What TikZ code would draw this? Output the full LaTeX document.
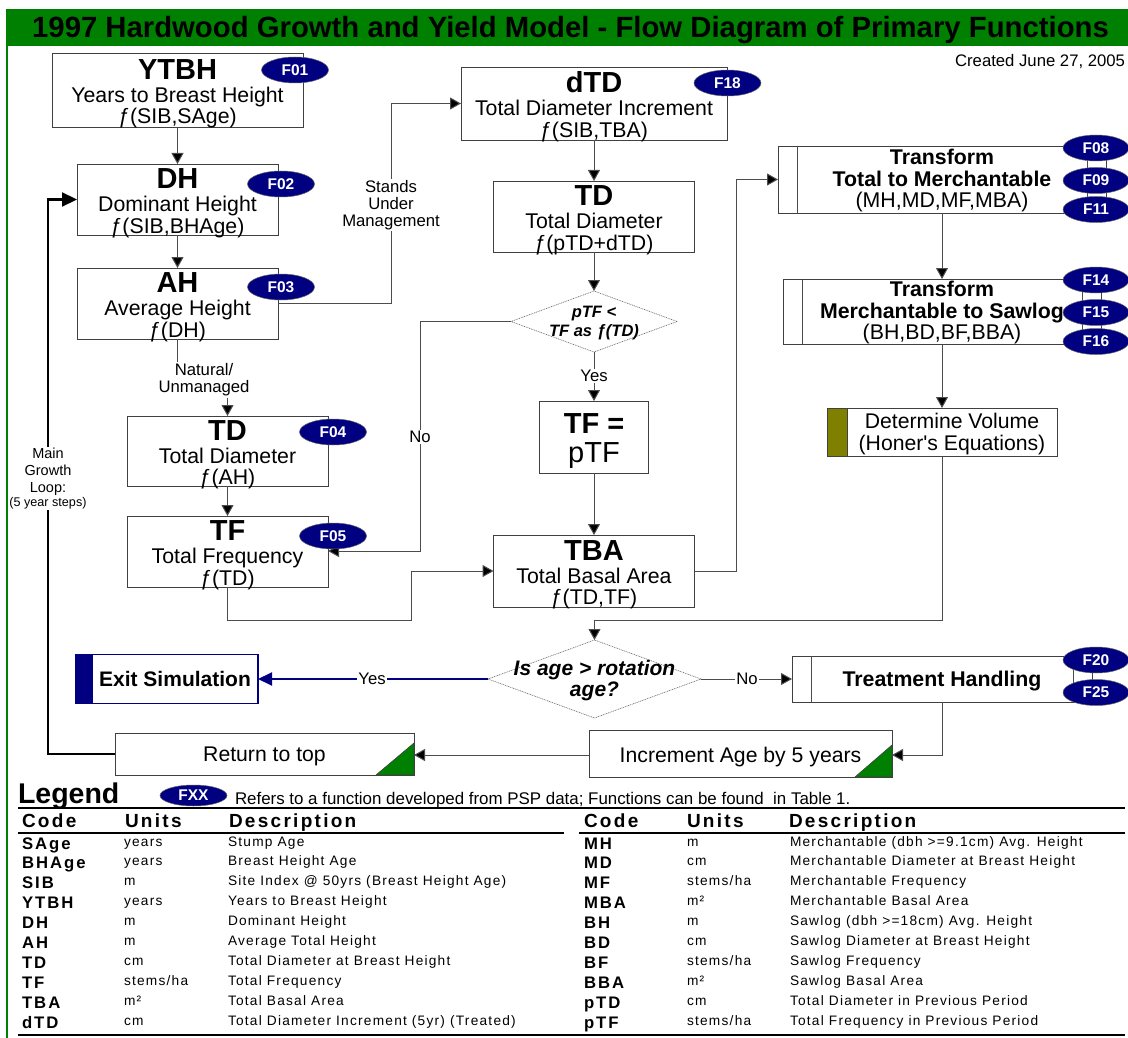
\documentclass[tikz,border=0pt]{standalone}
\usepackage{fontspec}
\setmainfont{Liberation Sans}
\newfontfamily\qf{Liberation Sans}
\newfontfamily\spA[LetterSpace=9]{Liberation Sans}
\newfontfamily\spB[LetterSpace=12]{Liberation Sans}
\usetikzlibrary{arrows.meta,shapes.geometric,calc}
\definecolor{fgreen}{HTML}{008000}
\definecolor{fnavy}{HTML}{000080}
\definecolor{folive}{HTML}{808000}
\newcommand{\TT}[1]{{\fontsize{29}{22}\selectfont\bfseries\rule{0pt}{28pt}#1}}
\newcommand{\TX}[1]{{#1}}
\newcommand{\TB}[1]{{\bfseries #1}}
\tikzset{
 every node/.style={inner sep=0pt,outer sep=0pt},
 box/.style={draw=black!75,line width=.95pt,fill=white,rectangle,align=center,inner ysep=-10pt,font=\fontsize{21.3}{21.5}\selectfont},
 oval/.style={ellipse,draw=black!60,line width=.5pt,fill=fnavy,minimum width=67pt,minimum height=26pt,text=white,font=\fontsize{15.5}{15.5}\selectfont\bfseries},
 cond/.style={diamond,draw=black!60,line width=.6pt,dash pattern=on 1pt off .8pt,fill=white},
 lnk/.style={draw=black!70,line width=1pt,-{Triangle[length=11pt,width=12pt,fill=black]}},
 plain/.style={draw=black!70,line width=1pt},
 lab/.style={fill=white,align=center,font=\fontsize{16.7}{17}\selectfont,inner sep=1.5pt},
 hdr/.style={anchor=base west,font=\fontsize{19}{20}\selectfont\spB\bfseries},
 cod/.style={anchor=base west,font=\fontsize{16.7}{17}\selectfont\spB\bfseries},
 unt/.style={anchor=base west,font=\fontsize{13.7}{14}\selectfont\spA},
 dsc/.style={anchor=base west,font=\fontsize{13.7}{14}\selectfont\spA},
}
\begin{document}
\begin{tikzpicture}[x=1pt,y=-1pt]
\useasboundingbox (0,0) rectangle (1128,1038);
% frame
\fill[fgreen] (6,9) rectangle (8,1038);
\node[fill=fgreen,minimum width=1122pt,minimum height=37pt,anchor=north west] (bar) at (6,9) {};
\node[anchor=center,font=\fontsize{29.3}{30}\selectfont\bfseries] (title) at (570.5,30) {1997 Hardwood Growth and Yield Model - Flow Diagram of Primary Functions};
\node[anchor=east,font=\fontsize{16.7}{17}\selectfont] (created) at (1125,62) {Created June 27, 2005};

% left column
\node[box,minimum width=251pt,minimum height=74pt] (ytbh) at (177.5,90) {\TT{YTBH}\\[1.5pt]\TX{Years to Breast Height}\\\TX{ƒ(SIB,SAge)}};
\node[box,minimum width=201pt,minimum height=71pt] (dh) at (177.5,199.5) {\TT{DH}\\[1.5pt]\TX{Dominant Height}\\\TX{ƒ(SIB,BHAge)}};
\node[box,minimum width=201pt,minimum height=71pt] (ah) at (177.5,303.5) {\TT{AH}\\[1.5pt]\TX{Average Height}\\\TX{ƒ(DH)}};
\node[box,minimum width=201pt,minimum height=70pt] (tdl) at (227.5,451) {\TT{TD}\\[1.5pt]\TX{Total Diameter}\\\TX{ƒ(AH)}};
\node[box,minimum width=201pt,minimum height=71pt] (tfl) at (227.5,551.5) {\TT{TF}\\[1.5pt]\TX{Total Frequency}\\\TX{ƒ(TD)}};

% middle column
\node[box,minimum width=266pt,minimum height=73pt] (dtd) at (594,103.5) {\TT{dTD}\\[1.5pt]\TX{Total Diameter Increment}\\\TX{ƒ(SIB,TBA)}};
\node[box,minimum width=201pt,minimum height=71pt] (tdm) at (594,216.5) {\TT{TD}\\[1.5pt]\TX{Total Diameter}\\\TX{ƒ(pTD+dTD)}};
\node[cond,aspect=2.72,minimum width=166pt,minimum height=61pt] (ptf) at (594,321.5) {};
\node[align=center,font=\fontsize{16.5}{19}\selectfont\bfseries\itshape] (ptft) at (594,323) {pTF <\\TF as ƒ(TD)};
\node[box,minimum width=109pt,minimum height=72pt] (tfe) at (594,437) {\TT{TF =}\\[7pt]{\fontsize{29}{22}\selectfont pTF}};
\node[box,minimum width=201pt,minimum height=72pt] (tba) at (594,571) {\TT{TBA}\\[1.5pt]\TX{Total Basal Area}\\\TX{ƒ(TD,TF)}};

% right column (predefined processes)
\node[box,minimum width=328pt,minimum height=67pt] (tm) at (942,179.5) {\rule{0pt}{18pt}\TB{Transform}\\\TB{Total to Merchantable}\\\TX{(MH,MD,MF,MBA)}};
\draw[plain] ($(tm.north west)+(19,0)$) -- ($(tm.south west)+(19,0)$);
\draw[plain] ($(tm.north east)+(-19,0)$) -- ($(tm.south east)+(-19,0)$);
\node[box,minimum width=318pt,minimum height=65pt] (ms) at (942,311.5) {\rule{0pt}{18pt}\TB{Transform}\\\TB{Merchantable to Sawlog}\\\TX{(BH,BD,BF,BBA)}};
\draw[plain] ($(ms.north west)+(19,0)$) -- ($(ms.south west)+(19,0)$);
\draw[plain] ($(ms.north east)+(-19,0)$) -- ($(ms.south east)+(-19,0)$);
\node[box,minimum width=230pt,minimum height=48pt] (det) at (942,432) {};
\fill[folive,draw=black!75,line width=.95pt] (det.north west) rectangle ($(det.south west)+(20,0)$);
\node[align=center,font=\fontsize{21.2}{22.5}\selectfont] (dett) at (952,434) {Determine Volume\\(Honer{\qf'}s Equations)};

% bottom row
\node[cond,aspect=2.73,minimum width=213pt,minimum height=78pt] (age) at (594.5,679) {};
\node[align=center,font=\fontsize{21}{21.5}\selectfont\bfseries\itshape] (aget) at (594.5,680.5) {Is age > rotation\\age?};
\node[box,draw=fnavy,line width=1.4pt,minimum width=182pt,minimum height=49pt] (exit) at (167,679) {};
\fill[fnavy] (exit.north west) rectangle ($(exit.south west)+(17,0)$);
\node[font=\fontsize{21}{22}\selectfont\bfseries] (exitt) at (175,679) {Exit Simulation};
\node[box,minimum width=300pt,minimum height=46pt] (trt) at (942,679) {\rule{0pt}{20pt}\TB{Treatment Handling}};
\draw[plain] ($(trt.north west)+(19,0)$) -- ($(trt.south west)+(19,0)$);
\draw[plain] ($(trt.north east)+(-19,0)$) -- ($(trt.south east)+(-19,0)$);
\node[box,minimum width=303pt,minimum height=47pt] (inc) at (740.5,753.5) {};
\fill[fgreen,draw=black!75,line width=.6pt] (inc.south east) -- ($(inc.south east)+(0,-32)$) -- ($(inc.south east)+(-37,0)$) -- cycle;
\node[font=\fontsize{21.2}{22}\selectfont] (inct) at (740.5,757) {Increment Age by 5 years};
\node[box,minimum width=299pt,minimum height=42pt] (ret) at (264.5,754) {};
\fill[fgreen,draw=black!75,line width=.6pt] (ret.south east) -- ($(ret.south east)+(0,-32)$) -- ($(ret.south east)+(-38,0)$) -- cycle;
\node[font=\fontsize{21.2}{22}\selectfont] (rett) at (264.5,756) {Return to top};

% waypoints
\coordinate (w1) at (177.5,378);
\coordinate (w2) at (227.5,378);
\coordinate (w3) at (227.5,620);
\coordinate (w4) at (411,620);
\coordinate (w5) at (391,303.5);
\coordinate (w6) at (420,321.5);
\coordinate (w7) at (420,551);
\coordinate (w8) at (736,571);
\coordinate (w9) at (942,620);
\coordinate (w10) at (594.5,620);
\coordinate (w11) at (942,755);
\coordinate (w12) at (48,754);
\coordinate (tfin) at (328,551);
\coordinate (incin) at (892,755);
\coordinate (incout) at (589,755);
\coordinate (retin) at (414,755);

% connectors
\draw[lnk] (ytbh.south) -- (dh.north);
\draw[lnk] (dh.south) -- (ah.north);
\draw[plain] (ah.south) -- (w1) -- (w2);
\draw[lnk] (w2) -- (tdl.north);
\draw[lnk] (tdl.south) -- (tfl.north);
\draw[lnk] (tfl.south) -- (w3) -- (w4) |- (tba.west);
\draw[lnk] (ah.east) -- (w5) |- (dtd.west);
\draw[lnk] (dtd.south) -- (tdm.north);
\draw[lnk] (tdm.south) -- (ptf.north);
\draw[lnk] (ptf.south) -- (tfe.north);
\draw[lnk] (ptf.west) -- (w6) -- (w7) -- (tfin);
\draw[lnk] (tfe.south) -- (tba.north);
\draw[lnk] (tba.east) -- (w8) |- (tm.west);
\draw[lnk] (tm.south) -- (ms.north);
\draw[lnk] (ms.south) -- (det.north);
\draw[lnk] (det.south) -- (w9) -- (w10) -- (age.north);
\draw[draw=fnavy,line width=2pt,-{Triangle[length=14pt,width=13pt,fill=fnavy]}] (age.west) -- (exit.east);
\draw[lnk] (age.east) -- (trt.west);
\draw[lnk] (trt.south) -- (w11) -- (incin);
\draw[lnk] (incout) -- (retin);
\draw[draw=black,line width=2.2pt,-{Triangle[length=15pt,width=14pt,fill=black]}] (ret.west) -- (w12) |- (dh.west);

% connector labels
\node[lab] (l1) at (391,205) {Stands\\Under\\Management};
\node[lab] (l2) at (204,380) {Natural/\\Unmanaged};
\node[lab] (l3) at (420,437) {No};
\node[lab] (l4) at (594,376) {Yes};
\node[lab] (l5) at (372,679) {Yes};
\node[lab] (l6) at (747,679) {No};
\node[lab,font=\fontsize{14.5}{17}\selectfont] (l7) at (48,472) {Main\\Growth\\Loop:};
\node[lab,font=\fontsize{12.6}{13}\selectfont] (l8) at (48,503) {(5 year steps)};

% function ovals
\node[oval] (f01) at (295,70) {F01};
\node[oval] (f02) at (281,184) {F02};
\node[oval] (f03) at (281,287) {F03};
\node[oval] (f04) at (333,432) {F04};
\node[oval] (f05) at (333,536) {F05};
\node[oval] (f18) at (727.5,83) {F18};
\node[oval,minimum width=66pt] (f08) at (1096,148) {F08};
\node[oval,minimum width=66pt] (f09) at (1096,180.5) {F09};
\node[oval,minimum width=66pt] (f11) at (1096,209.5) {F11};
\node[oval,minimum width=66pt] (f14) at (1096,280) {F14};
\node[oval,minimum width=66pt] (f15) at (1096,312.5) {F15};
\node[oval,minimum width=66pt] (f16) at (1096,341.5) {F16};
\node[oval,minimum width=66pt] (f20) at (1096,660) {F20};
\node[oval,minimum width=66pt] (f25) at (1096,692.5) {F25};

% legend
\node[anchor=base west,font=\fontsize{28.5}{29}\selectfont\bfseries] (leg) at (18,803) {Legend};
\node[oval,minimum height=21pt] (fxx) at (193.5,795.5) {FXX};
\node[anchor=base west,font=\fontsize{16.9}{17}\selectfont] (refs) at (235,804) {Refers to a function developed from PSP data; Functions can be found\ \ in Table 1.};
\draw[line width=2pt] (18,808) -- (1125,808);
\draw[line width=2.4pt] (18,833) -- (564,833);
\draw[line width=2.4pt] (579,833) -- (1125,833);
\draw[line width=2pt] (18,1035) -- (1125,1035);
\node[hdr] (h1) at (22,827) {Code};
\node[hdr] (h2) at (125,827) {Units};
\node[hdr] (h3) at (229,827) {Description};
\node[hdr] (h4) at (584,827) {Code};
\node[hdr] (h5) at (687,827) {Units};
\node[hdr] (h6) at (789,827) {Description};
\foreach \i/\c/\u/\d in {
 0/SAge/years/{Stump Age},
 1/BHAge/years/{Breast Height Age},
 2/SIB/m/{Site Index @ 50yrs (Breast Height Age)},
 3/YTBH/years/{Years to Breast Height},
 4/DH/m/{Dominant Height},
 5/AH/m/{Average Total Height},
 6/TD/cm/{Total Diameter at Breast Height},
 7/TF/{stems/ha}/{Total Frequency},
 8/TBA/m²/{Total Basal Area},
 9/dTD/cm/{Total Diameter Increment (5yr) (Treated)}}{
  \node[cod] (cl\i) at (22,{849+19.9*\i}) {\c};
  \node[unt] (ul\i) at (124,{846+19.9*\i}) {\u};
  \node[dsc] (dl\i) at (228,{846+19.9*\i}) {\d};
}
\foreach \i/\c/\u/\d in {
 0/MH/m/{Merchantable (dbh >=9.1cm) Avg. Height},
 1/MD/cm/{Merchantable Diameter at Breast Height},
 2/MF/{stems/ha}/{Merchantable Frequency},
 3/MBA/m²/{Merchantable Basal Area},
 4/BH/m/{Sawlog (dbh >=18cm) Avg. Height},
 5/BD/cm/{Sawlog Diameter at Breast Height},
 6/BF/{stems/ha}/{Sawlog Frequency},
 7/BBA/m²/{Sawlog Basal Area},
 8/pTD/cm/{Total Diameter in Previous Period},
 9/pTF/{stems/ha}/{Total Frequency in Previous Period}}{
  \node[cod] (cr\i) at (584,{849+19.9*\i}) {\c};
  \node[unt] (ur\i) at (687,{846+19.9*\i}) {\u};
  \node[dsc] (dr\i) at (790,{846+19.9*\i}) {\d};
}
\end{tikzpicture}
\end{document}
